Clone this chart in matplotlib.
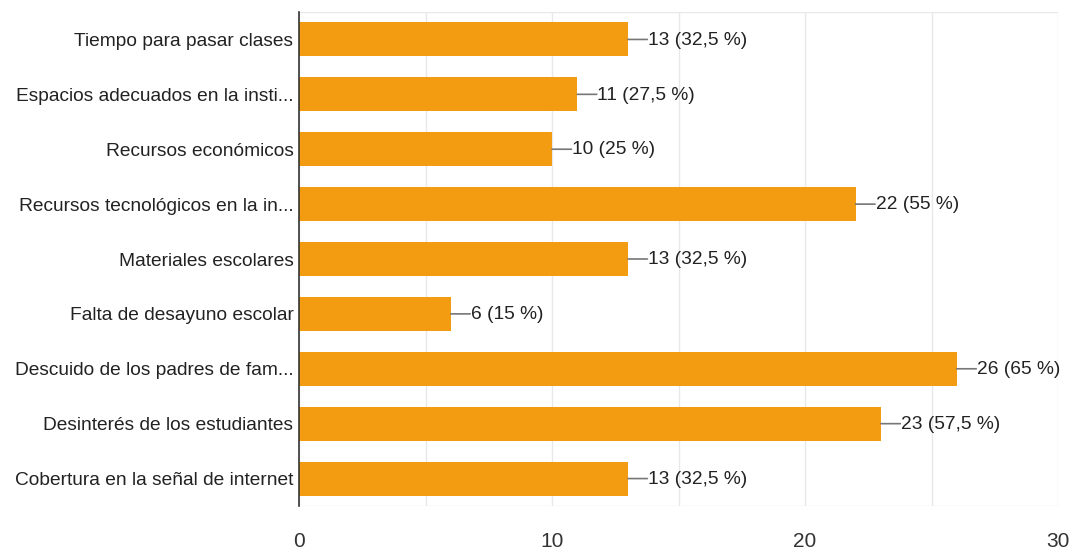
import matplotlib
matplotlib.use("Agg")
import matplotlib.pyplot as plt
from matplotlib import font_manager

categories = [
    "Tiempo para pasar clases",
    "Espacios adecuados en la insti...",
    "Recursos económicos",
    "Recursos tecnológicos en la in...",
    "Materiales escolares",
    "Falta de desayuno escolar",
    "Descuido de los padres de fam...",
    "Desinterés de los estudiantes",
    "Cobertura en la señal de internet",
]
values = [13, 11, 10, 22, 13, 6, 26, 23, 13]
percents = ["32,5", "27,5", "25", "55", "32,5", "15", "65", "57,5", "32,5"]
xticks = [0, 10, 20, 30]

names = {f.name for f in font_manager.fontManager.ttflist}
fam = "Liberation Sans Narrow" if "Liberation Sans Narrow" in names else "Liberation Sans"
plt.rcParams['font.family'] = [fam, 'DejaVu Sans']
fs = 13.8

W, H = 1072, 550
fig = plt.figure(figsize=(W/100, H/100), dpi=100)
ax = fig.add_axes([299/W, 1-506/H, (1058-299)/W, (506-12)/H])

color = "#F39C12"
ys = list(range(len(categories)))
ax.barh(ys, values, height=0.62, color=color, zorder=3)
ax.set_ylim(len(categories)-0.5, -0.5)
ax.set_xlim(0, 30)

for y, v, p in zip(ys, values, percents):
    ax.annotate("", xy=(v, y), xytext=(14, 0), textcoords="offset points",
                arrowprops=dict(arrowstyle="-", color="#777777", lw=1.2,
                                shrinkA=0, shrinkB=0), zorder=4)
    ax.annotate(f"{v} ({p} %)", xy=(v, y), xytext=(14.5, -0.5), textcoords="offset points",
                va="center", ha="left", fontsize=fs, color="#222222", zorder=5)

ax.set_yticks(ys)
ax.set_yticklabels(categories, fontsize=fs, color="#222222")
ax.set_xticks(xticks)
ax.set_xticklabels([str(t) for t in xticks], fontsize=15, color="#333333")
ax.set_xticks([5, 15, 25], minor=True)
ax.tick_params(axis="both", which="both", length=0)
ax.tick_params(axis="x", pad=19)
ax.tick_params(axis="y", pad=4)
ax.grid(axis="x", which="both", color="#e8e8e8", lw=1, zorder=0)
for s in ["top", "right", "bottom"]:
    ax.spines[s].set_visible(False)
ax.spines["left"].set_color("#333333")
ax.spines["left"].set_linewidth(1.2)
ax.spines["left"].set_zorder(6)
ax.axhline(-0.5, color="#e8e8e8", lw=1, zorder=0)
ax.axhline(len(categories)-0.5, color="#e8e8e8", lw=1, zorder=0)

fig.savefig("out.png", dpi=100)
